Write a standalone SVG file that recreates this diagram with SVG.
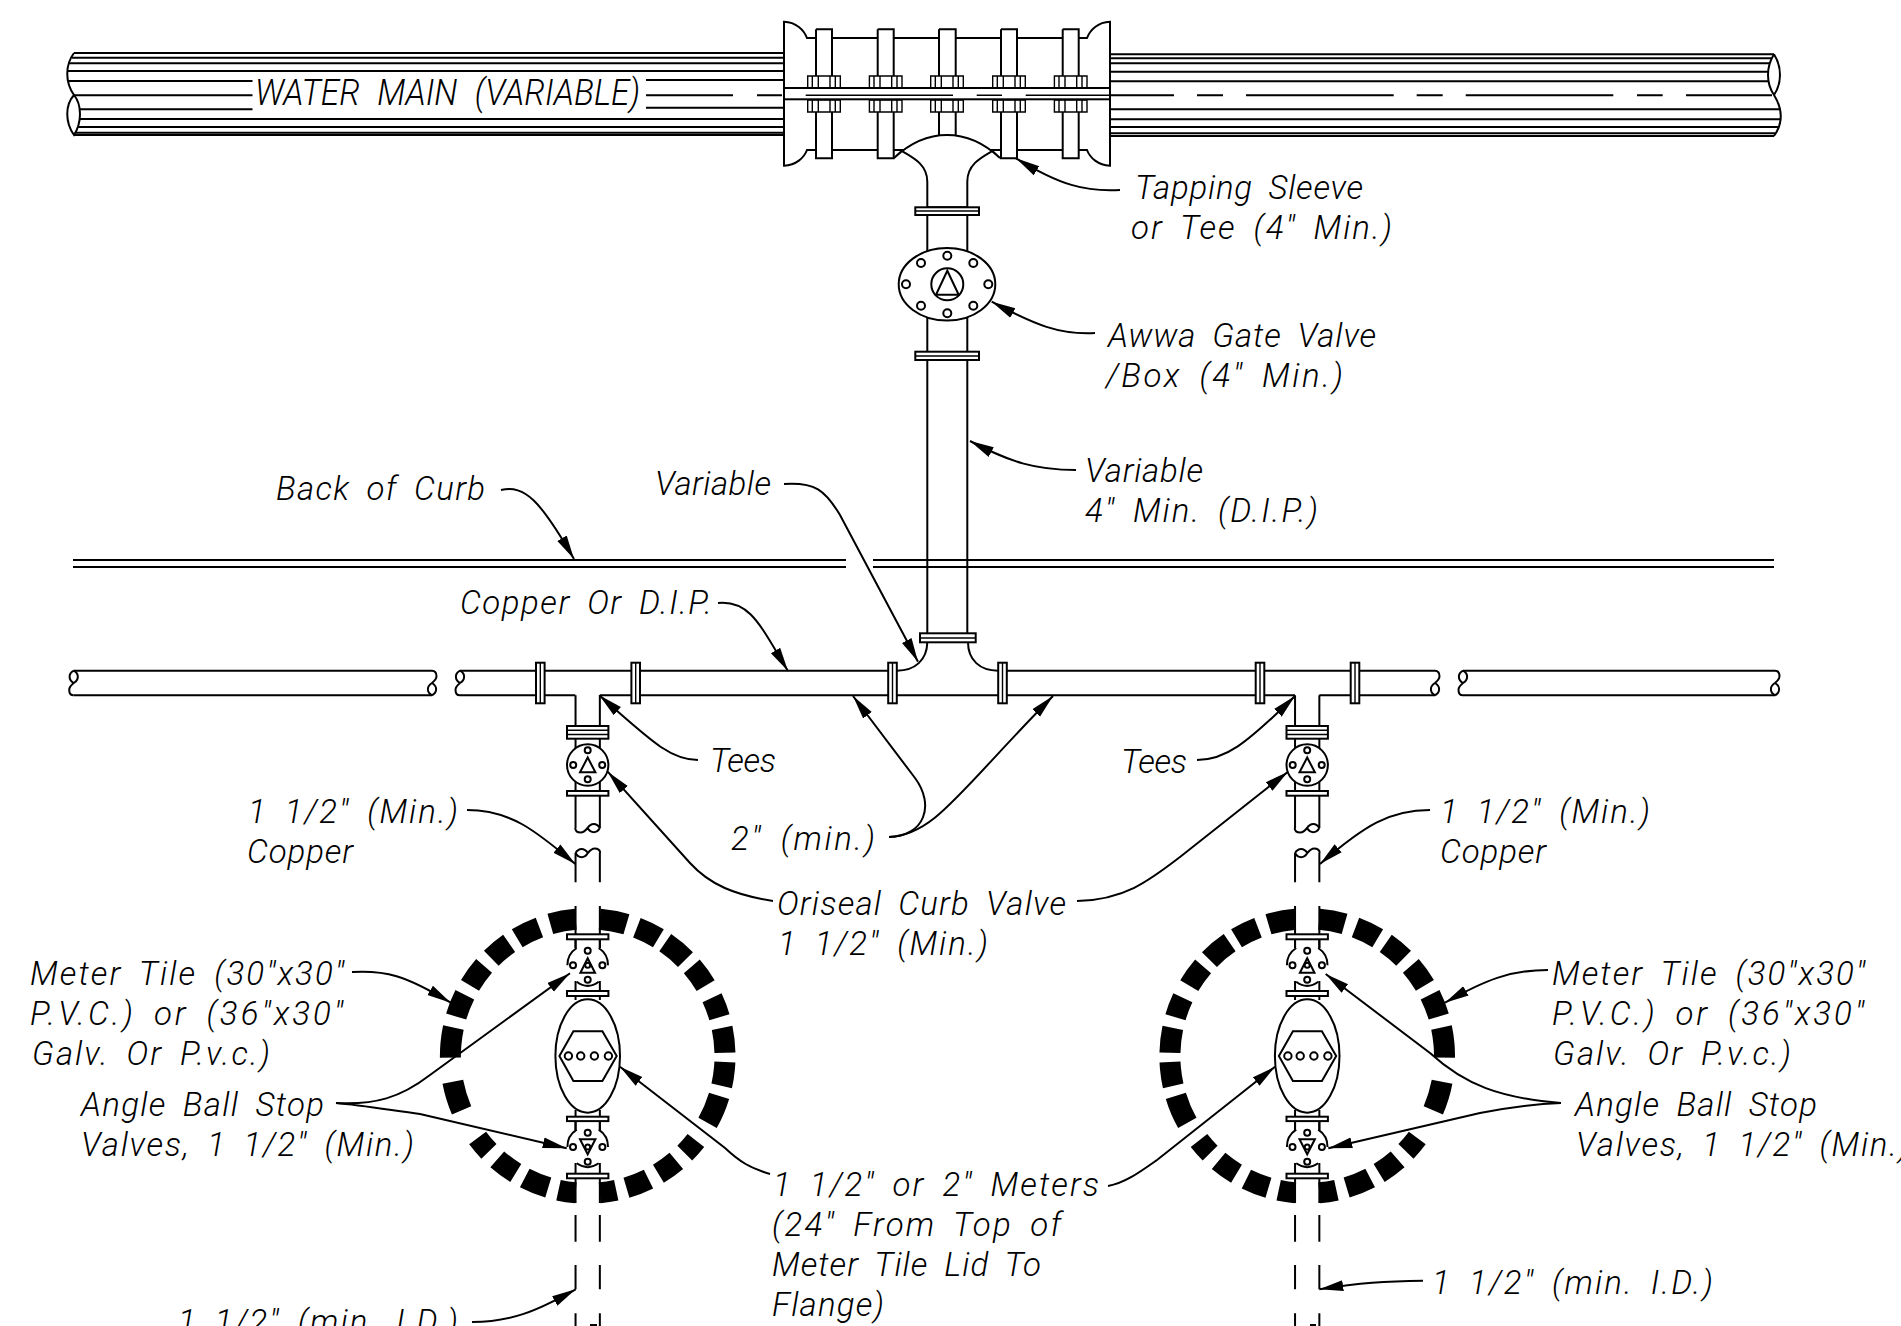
<svg xmlns="http://www.w3.org/2000/svg" xmlns:xlink="http://www.w3.org/1999/xlink" width="1901" height="1326" viewBox="0 0 1901 1326">
<style>
.l{fill:none;stroke:#000;stroke-width:2;stroke-linecap:butt}
.f{fill:#fff;stroke:#000;stroke-width:2}
.n{fill:none;stroke:#000;stroke-width:1.4}
.t{font-family:Roboto,"Liberation Sans",sans-serif;font-style:italic;font-weight:300;font-size:33px;word-spacing:7px;fill:#000}
.c{fill:none;stroke:#000;stroke-width:2;marker-end:url(#ah)}
</style>
<defs>
<marker id="ah" markerUnits="userSpaceOnUse" markerWidth="28" markerHeight="14" refX="24" refY="6" orient="auto"><path d="M0 0.6L24 6L0 11.4Z" fill="#000"/></marker>
<path id="brk" class="l" d="M0 0C-5.5 3-5.5 9 0 12.3C5.5 9 5.5 3 0 0M0 12.3C-2 14-4.5 16-4.5 19C-4.5 22-3 24.6 0 24.6"/>
<g id="ring"><circle r="137.3" transform="rotate(-85)" pathLength="360" fill="none" stroke="#000" stroke-width="21" stroke-dasharray="11.4 4.6 10 3.4 11 3.9 9.9 5.7 8.7 4.6 10.4 3.9 10.1 4.3 12.3 8.8 7 4.8 9.2 4.7 9.9 4.4 7 10 7.3 4.4 10.6 4.3 9.6 4.8 7.3 13.4 12.5 10.1 12.7 4.7 9.8 4.5 10 4.4 9.7 4 10.3 4.8 10.8 10"/></g>
<g id="branch">
<path class="l" d="M-12.15 695.3V828M12.15 695.3V828M-12.15 853V882.3M12.15 853V882.3M-12.15 906V948M12.15 906V948M-12.15 981V1000M12.15 981V1000M-12.15 1110V1130M12.15 1110V1130M-12.15 1163V1203M12.15 1163V1203M-12.15 1215V1241.7M12.15 1215V1241.7M-12.15 1265V1289.3M12.15 1265V1289.3M-12.15 1313.3V1326M12.15 1313.3V1326"/>
<use xlink:href="#brk" transform="translate(12.15 828) rotate(90) scale(-1 1)"/>
<use xlink:href="#brk" transform="translate(-12.15 853) rotate(-90) scale(-1 1)"/>
<rect class="f" x="-20.7" y="726" width="41.4" height="12.7"/><path class="n" d="M-20.7 730.2H20.7M-20.7 734.5H20.7"/>
<circle class="f" cy="765" r="20.7"/>
<g class="l"><circle cy="750.3" r="3"/><circle cx="-14.5" cy="765" r="3"/><circle cx="14.5" cy="765" r="3"/><circle cy="779.3" r="3"/></g>
<path class="l" stroke-width="2.4" d="M0 757.5L-7.7 772.3H7.7Z"/>
<rect class="f" x="-20.7" y="791" width="41.4" height="4.7"/>
<rect class="f" x="-20.7" y="934.3" width="41.4" height="5"/>
<path class="l" d="M-12.15 939.3V948M12.15 939.3V948M-20.3 965.3A20.3 20.3 0 0 1-11 948M20.3 965.3A20.3 20.3 0 0 0 11 948M-11 981.7Q0 990 11 981.7"/>
<g class="l"><circle cy="950.7" r="3"/><circle cx="-14.7" cy="965.3" r="3"/><circle cx="14.7" cy="965.3" r="3"/><circle cy="979.7" r="3"/></g>
<path class="l" d="M0 958.3L-7.3 972.7H7.3Z"/><circle class="l" cy="965.3" r="2.5"/>
<rect class="f" x="-20.7" y="991" width="41.4" height="5"/>
<ellipse class="f" cy="1056" rx="32.3" ry="56.7"/>
<path class="l" d="M-28.3 1056L-14.3 1031.3H14.7L29 1056L14.7 1081H-14.3Z"/>
<g class="l"><circle cx="-19.3" cy="1056" r="3.7"/><circle cx="-7" cy="1056" r="3.7"/><circle cx="6.7" cy="1056" r="3.7"/><circle cx="20.7" cy="1056" r="3.7"/></g>
<rect class="f" x="-20.7" y="1116.7" width="41.4" height="4.4"/>
<path class="l" d="M-12.15 1121V1130M12.15 1121V1130M-20.3 1147A20.3 20.3 0 0 1-11 1129.6M20.3 1147A20.3 20.3 0 0 0 11 1129.6M-11 1163.3Q0 1171 11 1163.3"/>
<g class="l"><circle cy="1132.7" r="3"/><circle cx="-14.7" cy="1147" r="3"/><circle cx="14.7" cy="1147" r="3"/><circle cy="1161.7" r="3"/></g>
<path class="l" d="M-7.7 1139.3H7.7L0 1154.3Z"/><circle class="l" cy="1147" r="2.5"/>
<rect class="f" x="-20.7" y="1173.7" width="41.4" height="4.6"/>
</g>
<g id="strap"><path fill="#fff" d="M-8 29.3H8V158.3H-8Z"/><path class="l" d="M-8 29.3H8V76M-8 29.3V76M-8 112V158.3H8V112"/></g>
<g id="nut"><path class="n" stroke-width="1.8" d="M-16.3 76H16.3V88H-16.3ZM-16.3 100H16.3V112H-16.3ZM-11.7 76V88M-5.7 76V88M6 76V88M11.3 76V88M-11.7 100V112M-5.7 100V112M6 100V112M11.3 100V112"/></g>
<g id="fl"><rect class="f" x="-4.3" y="662.7" width="8.6" height="40.6"/><path class="n" d="M0 662.7V703.3"/></g>
</defs>
<rect width="1901" height="1326" fill="#fff"/>

<g id="water-main">
<path class="l" d="M74 53H784M72 57.7H784M69 63.3H784M67 71H784M68 81H252.5M74 95.3H252.5M80 109.3H252.5M80 119H784M78 127H784M75 132.7H784M646 80H784M646 95.3H733M757 95.3H782M646 107.7H784"/>
<path class="l" stroke-width="3" d="M74 135H784"/>
<path class="l" d="M74 53C65 65 65 82 74 95C82 105 82 122 74 135C65 122 65 105 74 95"/>
<path class="l" d="M1110 54.3H1774M1110 58.3H1771M1110 63.3H1769M1110 71.7H1768M1110 81.3H1769M1110 95.3H1174M1197 95.3H1223M1246 95.3H1393.7M1416.7 95.3H1442.7M1465.7 95.3H1613.3M1637 95.3H1662.7M1686 95.3H1772M1110 109.3H1780M1110 119.3H1780M1110 127H1778M1110 133.3H1775"/>
<path class="l" stroke-width="3" d="M1110 136H1774"/>
<path class="l" d="M1774 54.3C1766 67 1766 83 1774 95C1782 83 1782 67 1774 54.3M1774 95C1782 108 1784 122 1774 136"/>
</g>

<g id="tapping-sleeve">
<path class="f" d="M784 21.7C796 22 804 30 807 38H1087C1090 30 1098 22 1110 21.7V165.7C1098 165 1090 158 1087 150H807C804 158 796 165 784 165.7Z"/>
<use xlink:href="#strap" x="824"/><use xlink:href="#strap" x="1070.7"/>
<rect x="939" y="29.3" width="16.7" height="106" fill="#fff"/>
<path class="l" d="M939 29.3H955.7V76M939 29.3V76M939 112V138M955.7 112V138"/>
<path fill="#fff" stroke="#000" stroke-width="2" d="M894 158C910 143 928 135 947 135C966 135 984 143 1000 158L992.3 151C980 158 967.3 165 967.3 181.7V207.3H927.3V181.7C927.3 165 914 158 901.7 151Z"/>
<use xlink:href="#strap" x="885.7"/><use xlink:href="#strap" x="1009"/>
<rect class="f" x="784" y="88" width="326" height="11.3"/>
<path class="n" d="M805.7 95.3H953M976.7 95.3H1002M1025.7 95.3H1109"/>
<use xlink:href="#nut" x="824"/><use xlink:href="#nut" x="885.7"/><use xlink:href="#nut" x="947"/><use xlink:href="#nut" x="1009"/><use xlink:href="#nut" x="1070.7"/>
</g>

<g id="service-pipe">
<path class="l" d="M927.3 215V351.7M967.3 215V351.7M927.3 360V634M967.3 360V634"/>
<rect class="f" x="915.3" y="207.3" width="63.7" height="7.7"/><path class="n" d="M915.3 211H979"/>
<rect class="f" x="915.3" y="351.7" width="63.7" height="8.3"/><path class="n" d="M915.3 356H979"/>
<rect class="f" x="920" y="633.3" width="55.7" height="9"/><path class="n" d="M920 638H975.7"/>
<path class="l" d="M927.3 642.3C927 660 915 670.7 897 670.7M968 642.3C968 660 980 670.7 998 670.7"/>
</g>

<g id="gate-valve">
<ellipse class="f" cx="947" cy="284.3" rx="48.3" ry="36.3"/>
<g class="l"><circle cx="947.3" cy="255.7" r="4"/><circle cx="921" cy="263" r="4"/><circle cx="973.3" cy="263" r="4"/><circle cx="906" cy="284.3" r="4"/><circle cx="988.3" cy="284.3" r="4"/><circle cx="921" cy="305.7" r="4"/><circle cx="973.3" cy="305.7" r="4"/><circle cx="947.3" cy="313.3" r="4"/>
<circle cx="947.3" cy="284.3" r="16"/><path d="M947.3 270.7L936 294.7H958.7Z"/></g>
</g>

<g id="back-of-curb"><path class="l" d="M73 560H846M73 567H846M873 560H1774M873 567H1774"/></g>

<g id="lateral">
<use xlink:href="#brk" transform="translate(73.7 670.7)"/>
<use xlink:href="#brk" transform="translate(432 695.3) rotate(180)"/>
<path class="l" d="M73.7 670.7H432M73.7 695.3H432"/>
<use xlink:href="#brk" transform="translate(460 670.7)"/>
<use xlink:href="#brk" transform="translate(1435 695.3) rotate(180)"/>
<path class="l" d="M460 670.7H897M998 670.7H1435M460 695.3H575.3M600 695.3H1295M1319.3 695.3H1435"/>
<use xlink:href="#brk" transform="translate(1463 670.7)"/>
<use xlink:href="#brk" transform="translate(1775 695.3) rotate(180)"/>
<path class="l" d="M1463 670.7H1775M1463 695.3H1775"/>
<use xlink:href="#fl" x="540.3"/><use xlink:href="#fl" x="635.7"/><use xlink:href="#fl" x="892.5"/><use xlink:href="#fl" x="1002.5"/><use xlink:href="#fl" x="1260"/><use xlink:href="#fl" x="1355"/>
</g>

<g id="meter-left"><use xlink:href="#ring" transform="translate(587.7 1056)"/><use xlink:href="#branch" x="587.7"/><path class="l" d="M590 1325H597"/></g>
<g id="meter-right"><use xlink:href="#ring" transform="translate(1307.2 1056) scale(-1 1)"/><use xlink:href="#branch" x="1307.2"/><path class="l" d="M1310 1325H1316"/></g>

<g id="connectors">
<path class="c" d="M1120 190C1085 192 1060 185 1016 158.3"/>
<path class="c" d="M1095 333C1060 335 1035 325 991.7 301.7"/>
<path class="c" d="M1076 470C1035 470 1010 462 970 441"/>
<path class="c" d="M501 490C525 485 540 500 574 559"/>
<path class="c" d="M784 484C815 482 825 490 840 515L918 661.7"/>
<path class="c" d="M718 603C750 600 760 625 788 671"/>
<path class="c" d="M698 760C670 760 650 740 599.3 695.3"/>
<path class="c" d="M1197 760C1225 760 1245 745 1295 696"/>
<path class="c" d="M773 901C735 895 710 885 690 863L607.7 771.7"/>
<path class="c" d="M1077 901C1125 900 1150 880 1180 857L1288 771.7"/>
<path class="c" d="M467 810C510 810 535 830 575.3 864"/>
<path class="c" d="M1430 810C1390 810 1365 825 1320 864"/>
<path class="c" d="M889 837C925 836 935 805 915 778L853 696"/>
<path class="c" d="M889 837C935 835 960 790 1053 696"/>
<path class="c" d="M352 972C385 970 405 975 450.7 1002.7"/>
<path class="c" d="M1548 970C1510 970 1485 980 1445 1002.7"/>
<path class="c" d="M336 1103C375 1105 400 1098 430 1075L570 973.3"/>
<path class="c" d="M336 1103C360 1105 390 1110 420 1114L566.7 1148.3"/>
<path class="c" d="M1561 1103C1500 1098 1465 1085 1430 1053L1325.7 974"/>
<path class="c" d="M1561 1103C1530 1104 1500 1109 1480 1113L1328.3 1148.3"/>
<path class="c" d="M770 1174C750 1168 740 1162 725 1148L620 1066.7"/>
<path class="c" d="M1108 1186C1125 1183 1140 1172 1157 1160L1275 1066.7"/>
<path class="c" d="M472 1322C510 1322 535 1312 575.7 1289.3"/>
<path class="c" d="M1423 1280.7C1385 1281 1360 1283 1319.3 1289.3"/>
</g>

<g id="labels">
<text class="t" x="255" y="105" textLength="385" lengthAdjust="spacingAndGlyphs" style="font-size:36px;word-spacing:10px">WATER MAIN (VARIABLE)</text>
<text class="t" x="1135" y="199" textLength="228">Tapping Sleeve</text>
<text class="t" x="1131" y="239" textLength="261">or Tee (4" Min.)</text>
<text class="t" x="1108" y="347" textLength="268">Awwa Gate Valve</text>
<text class="t" x="1106" y="387" textLength="237">/Box (4" Min.)</text>
<text class="t" x="1085" y="482" textLength="118">Variable</text>
<text class="t" x="1085" y="522" textLength="233">4" Min. (D.I.P.)</text>
<text class="t" x="276" y="500" textLength="209">Back of Curb</text>
<text class="t" x="655" y="495" textLength="116">Variable</text>
<text class="t" x="460" y="614" textLength="252">Copper Or D.I.P.</text>
<text class="t" x="710" y="772" textLength="66">Tees</text>
<text class="t" x="1121" y="773" textLength="66">Tees</text>
<text class="t" x="731" y="850" textLength="144">2" (min.)</text>
<text class="t" x="248" y="823" textLength="210">1 1/2" (Min.)</text>
<text class="t" x="247" y="863" textLength="106">Copper</text>
<text class="t" x="1440" y="823" textLength="210">1 1/2" (Min.)</text>
<text class="t" x="1440" y="863" textLength="106">Copper</text>
<text class="t" x="777" y="915" textLength="289">Oriseal Curb Valve</text>
<text class="t" x="778" y="955" textLength="210">1 1/2" (Min.)</text>
<text class="t" x="30" y="985" textLength="314">Meter Tile (30"x30"</text>
<text class="t" x="30" y="1025" textLength="313">P.V.C.) or (36"x30"</text>
<text class="t" x="32" y="1065" textLength="238">Galv. Or P.v.c.)</text>
<text class="t" x="81" y="1116" textLength="243">Angle Ball Stop</text>
<text class="t" x="81" y="1156" textLength="333">Valves, 1 1/2" (Min.)</text>
<text class="t" x="1552" y="985" textLength="313">Meter Tile (30"x30"</text>
<text class="t" x="1552" y="1025" textLength="312">P.V.C.) or (36"x30"</text>
<text class="t" x="1553" y="1065" textLength="238">Galv. Or P.v.c.)</text>
<text class="t" x="1575" y="1116" textLength="242">Angle Ball Stop</text>
<text class="t" x="1576" y="1156" textLength="333">Valves, 1 1/2" (Min.)</text>
<text class="t" x="773" y="1196" textLength="326">1 1/2" or 2" Meters</text>
<text class="t" x="772" y="1236" textLength="289">(24" From Top of</text>
<text class="t" x="772" y="1276" textLength="269">Meter Tile Lid To</text>
<text class="t" x="772" y="1316" textLength="112">Flange)</text>
<text class="t" x="178" y="1333" textLength="280">1 1/2" (min. I.D.)</text>
<text class="t" x="1432" y="1294" textLength="281">1 1/2" (min. I.D.)</text>
</g>
</svg>
